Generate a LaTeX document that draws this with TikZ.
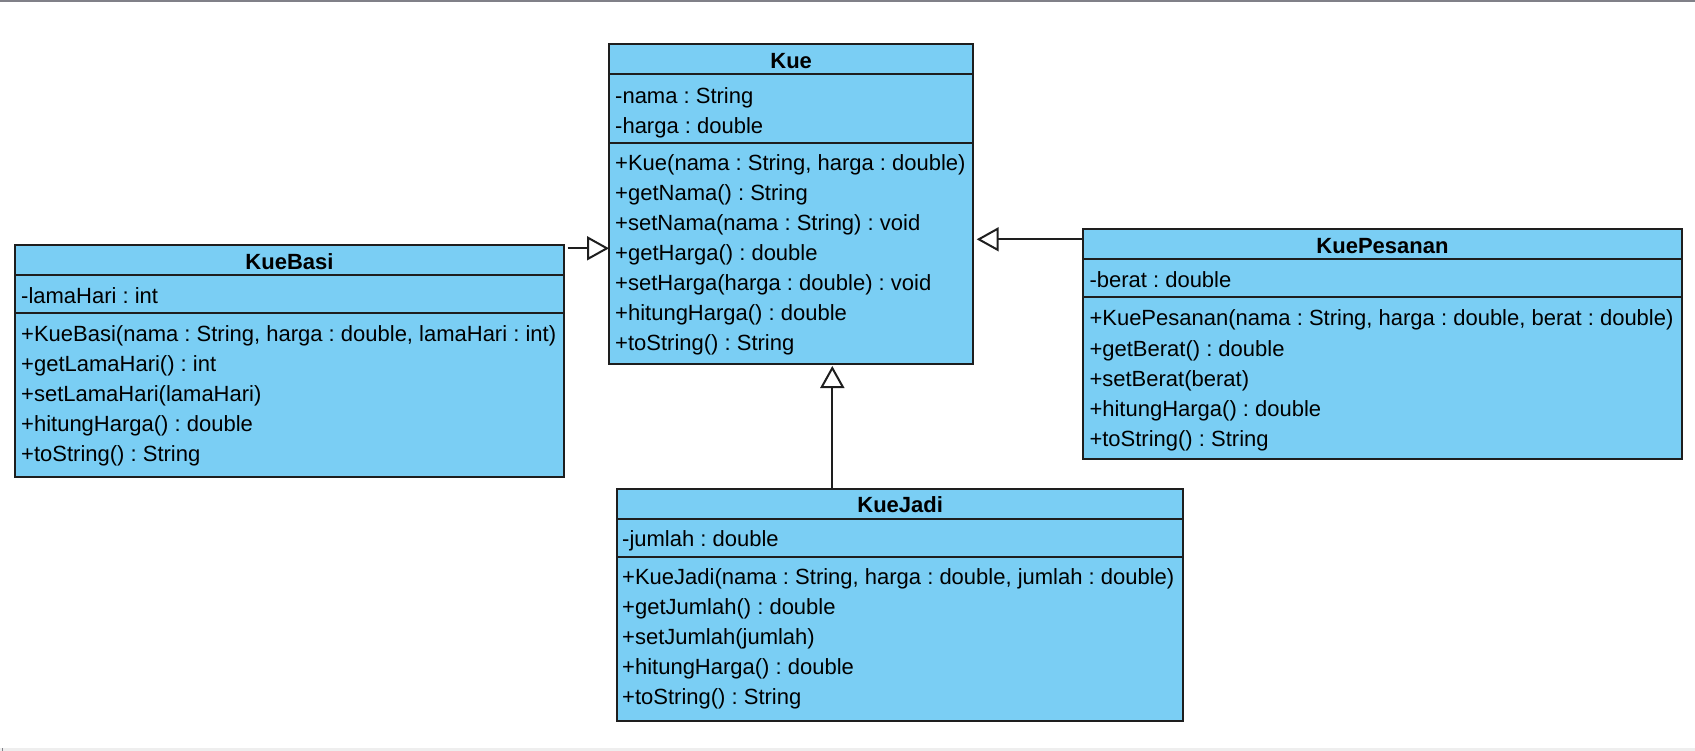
\documentclass[tikz,border=0pt]{standalone}
\usepackage{fontspec}
\setmainfont{Liberation Sans}
\usetikzlibrary{arrows.meta,calc}
\frenchspacing

\definecolor{classfill}{RGB}{122,206,244}
\definecolor{classline}{RGB}{30,30,30}
\definecolor{bargray}{RGB}{128,128,136}
\definecolor{stripgray}{RGB}{238,238,238}

\tikzset{
  classbox/.style={draw=classline, fill=classfill, line width=2pt, rectangle,
    inner sep=0pt, outer sep=0pt, anchor=north west},
  sepline/.style={draw=classline, line width=2pt},
  member/.style={anchor=base west, inner sep=0pt, font=\fontsize{22}{30}\selectfont\frenchspacing},
  classtitle/.style={anchor=base, inner sep=0pt, font=\fontsize{22}{30}\selectfont\bfseries},
  inherit/.style={draw=classline, line width=2pt,
    -{Triangle[open, length=22pt, width=24pt, fill=white]}},
}

\begin{document}
\begin{tikzpicture}[x=1pt, y=-1pt]
  \useasboundingbox (0,0) rectangle (1695,751);
  % window frame strips
  \fill[bargray] (0,0) rectangle (1695,2);
  \fill[stripgray] (0,748) rectangle (1695,751);
  \fill[bargray] (2,747.5) rectangle (3.3,751);

  % ---- Kue ----
  \node[classbox, minimum width=364.3pt, minimum height=320.3pt] (kue) at (609,44) {};
  \draw[sepline] ($(kue.north west)+(0,30)$) -- ($(kue.north east)+(0,30)$);
  \draw[sepline] ($(kue.north west)+(0,99)$) -- ($(kue.north east)+(0,99)$);
  \node[classtitle] (kue-t) at ($(kue.north)+(0,24.5)$) {Kue};
  \foreach [count=\i from 0] \t in {{-nama : String}, {-harga : double}}
    \node[member] (kue-a\i) at ($(kue.north west)+(6,59.3+30*\i)$) {\t};
  \foreach [count=\i from 0] \t in {{+Kue(nama : String, harga : double)},
      {+getNama() : String}, {+setNama(nama : String) : void},
      {+getHarga() : double}, {+setHarga(harga : double) : void},
      {+hitungHarga() : double}, {+toString() : String}}
    \node[member] (kue-m\i) at ($(kue.north west)+(6,126.8+30*\i)$) {\t};

  % ---- KueBasi ----
  \node[classbox, minimum width=549pt, minimum height=232pt] (basi) at (15,245) {};
  \draw[sepline] ($(basi.north west)+(0,30)$) -- ($(basi.north east)+(0,30)$);
  \draw[sepline] ($(basi.north west)+(0,68)$) -- ($(basi.north east)+(0,68)$);
  \node[classtitle] (basi-t) at ($(basi.north)+(0,24.8)$) {KueBasi};
  \node[member] (basi-a0) at ($(basi.north west)+(6,58.8)$) {-lamaHari : int};
  \foreach [count=\i from 0] \t in {{+KueBasi(nama : String, harga : double, lamaHari : int)},
      {+getLamaHari() : int}, {+setLamaHari(lamaHari)},
      {+hitungHarga() : double}, {+toString() : String}}
    \node[member] (basi-m\i) at ($(basi.north west)+(6,96.6+30*\i)$) {\t};

  % ---- KuePesanan ----
  \node[classbox, minimum width=598.4pt, minimum height=230pt] (pes) at (1083.3,229.3) {};
  \draw[sepline] ($(pes.north west)+(0,30)$) -- ($(pes.north east)+(0,30)$);
  \draw[sepline] ($(pes.north west)+(0,68)$) -- ($(pes.north east)+(0,68)$);
  \node[classtitle] (pes-t) at ($(pes.north)+(0,24.2)$) {KuePesanan};
  \node[member] (pes-a0) at ($(pes.north west)+(6,58.2)$) {-berat : double};
  \foreach [count=\i from 0] \t in {{+KuePesanan(nama : String, harga : double, berat : double)},
      {+getBerat() : double}, {+setBerat(berat)},
      {+hitungHarga() : double}, {+toString() : String}}
    \node[member] (pes-m\i) at ($(pes.north west)+(6,96.7+30*\i)$) {\t};

  % ---- KueJadi ----
  \node[classbox, minimum width=566.3pt, minimum height=232pt] (jadi) at (617,488.5) {};
  \draw[sepline] ($(jadi.north west)+(0,30)$) -- ($(jadi.north east)+(0,30)$);
  \draw[sepline] ($(jadi.north west)+(0,68)$) -- ($(jadi.north east)+(0,68)$);
  \node[classtitle] (jadi-t) at ($(jadi.north)+(0,23.5)$) {KueJadi};
  \node[member] (jadi-a0) at ($(jadi.north west)+(5,57.6)$) {-jumlah : double};
  \foreach [count=\i from 0] \t in {{+KueJadi(nama : String, harga : double, jumlah : double)},
      {+getJumlah() : double}, {+setJumlah(jumlah)},
      {+hitungHarga() : double}, {+toString() : String}}
    \node[member] (jadi-m\i) at ($(jadi.north west)+(5,95.6+30*\i)$) {\t};

  % ---- generalisations ----
  \coordinate (basi-out) at ($(basi.north east)+(3.7,3.3)$);
  \draw[inherit] (basi-out) -- (basi-out -| kue.west);
  \coordinate (pes-out) at ($(pes.north west)+(0,10)$);
  \draw[inherit, shorten >=3.4pt] (pes-out) -- (pes-out -| kue.east);
  \coordinate (jadi-out) at ($(jadi.north west)+(215.3,0)$);
  \draw[inherit, shorten >=1.7pt] (jadi-out) -- (jadi-out |- kue.south);
\end{tikzpicture}
\end{document}
